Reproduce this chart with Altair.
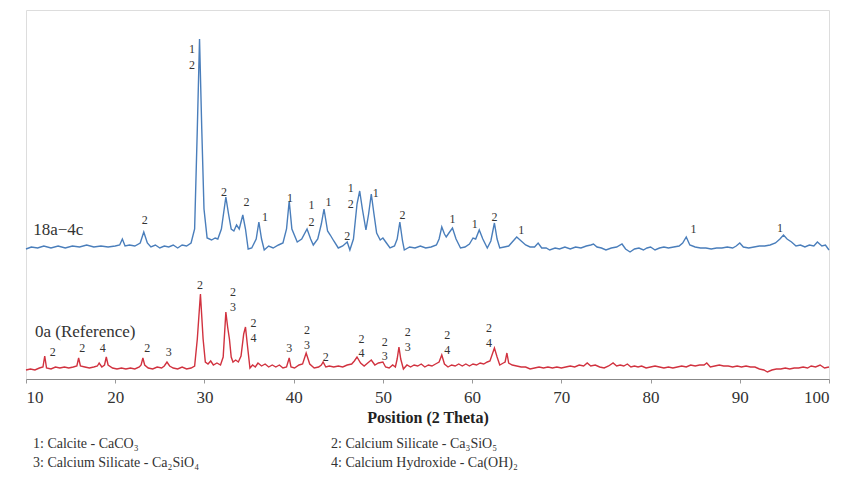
import altair as alt
import pandas as pd

# ---- data (intensity in arbitrary units, offset traces) ----
blue_theta = [10.0, 10.6, 11.3, 12.0, 12.8, 13.6, 14.4, 15.2, 16.0, 16.8, 17.6, 18.4, 19.2, 20.0, 20.5, 20.8, 21.1, 21.6, 22.2, 22.8,
              23.2, 23.6, 24.0, 24.5, 25.0, 25.5, 26.0, 26.5, 27.0, 27.5, 28.0, 28.5, 28.9, 29.2, 29.45, 29.7, 29.95, 30.3, 30.8, 31.2,
              31.5, 31.9, 32.4, 32.7, 33.0, 33.3, 33.6, 33.9, 34.3, 34.6, 34.9, 35.3, 35.8, 36.1, 36.4, 36.7, 37.2, 37.7, 38.3, 38.8,
              39.2, 39.5, 39.8, 40.4, 40.9, 41.5, 41.9, 42.2, 42.7, 43.1, 43.4, 43.8, 44.1, 44.5, 45.0, 45.5, 46.0, 46.3, 46.7, 47.1,
              47.4, 47.7, 48.1, 48.4, 48.7, 49.0, 49.3, 49.7, 50.0, 50.4, 50.8, 51.3, 51.6, 51.9, 52.2, 52.4, 53.0, 53.6, 54.2, 54.8,
              55.4, 56.0, 56.3, 56.6, 56.9, 57.1, 57.4, 57.8, 58.2, 58.7, 59.2, 59.7, 60.1, 60.4, 60.8, 61.2, 61.7, 62.1, 62.5, 62.8,
              63.1, 63.6, 64.1, 64.6, 65.0, 65.5, 66.0, 66.5, 67.0, 67.4, 67.8, 68.3, 68.7, 69.3, 69.8, 70.4, 71.0, 71.6, 72.2, 72.8,
              73.3, 73.6, 74.0, 74.5, 75.0, 75.6, 76.2, 76.8, 77.2, 77.7, 78.2, 78.7, 79.2, 79.6, 80.0, 80.5, 81.0, 81.5, 82.0, 82.6,
              83.2, 83.6, 84.0, 84.4, 85.0, 85.6, 86.2, 86.8, 87.4, 88.0, 88.6, 89.2, 89.6, 90.0, 90.4, 91.0, 91.6, 92.2, 92.8, 93.4,
              94.0, 94.5, 94.9, 95.3, 95.8, 96.3, 96.8, 97.3, 97.8, 98.3, 98.7, 99.2, 99.6, 100.0]
blue_int = [130, 132, 131, 133, 131, 133, 131, 133, 132, 134, 132, 133, 132, 133, 134, 140, 133, 134, 133, 136,
            147, 136, 132, 134, 131, 133, 132, 134, 131, 134, 133, 136, 150, 250, 340, 250, 170, 141, 139, 141,
            140, 150, 182, 165, 150, 148, 154, 150, 164, 150, 130, 131, 140, 157, 140, 129, 133, 131, 134, 136,
            150, 178, 150, 137, 140, 150, 140, 134, 140, 155, 170, 148, 144, 138, 131, 133, 137, 129, 140, 175,
            188, 170, 149, 165, 185, 165, 146, 139, 141, 136, 131, 133, 140, 157, 138, 129, 132, 131, 133, 131,
            132, 134, 140, 152, 145, 142, 146, 151, 140, 131, 132, 135, 141, 140, 149, 140, 131, 138, 156, 140,
            131, 132, 133, 138, 142, 138, 134, 132, 132, 136, 131, 131, 129, 131, 130, 132, 130, 132, 131, 133,
            134, 135, 132, 131, 129, 131, 132, 135, 130, 127, 130, 131, 129, 131, 132, 129, 131, 132, 131, 132,
            133, 136, 142, 134, 132, 131, 131, 130, 131, 131, 132, 131, 133, 136, 132, 131, 132, 133, 133, 134,
            136, 140, 144, 140, 137, 133, 134, 132, 134, 133, 137, 133, 134, 129]

red_theta = [10.0, 10.5, 11.0, 11.5, 11.9, 12.1, 12.3, 12.8, 13.3, 13.8, 14.3, 14.8, 15.3, 15.7, 15.9, 16.1, 16.6, 17.1, 17.6, 18.0,
             18.2, 18.5, 18.8, 19.0, 19.2, 19.7, 20.2, 20.7, 21.2, 21.7, 22.2, 22.7, 22.9, 23.1, 23.3, 23.7, 24.2, 24.7, 25.2, 25.5,
             25.8, 26.1, 26.5, 27.0, 27.5, 28.0, 28.5, 28.9, 29.2, 29.55, 29.85, 30.1, 30.4, 30.7, 31.0, 31.4, 31.8, 32.1, 32.4, 32.6,
             32.8, 33.0, 33.2, 33.5, 33.8, 34.1, 34.4, 34.6, 34.8, 35.1, 35.4, 35.7, 36.0, 36.4, 36.8, 37.2, 37.6, 38.0, 38.4, 38.8,
             39.2, 39.5, 39.7, 40.1, 40.6, 41.0, 41.4, 41.8, 42.3, 42.8, 43.1, 43.3, 43.6, 44.0, 44.5, 45.0, 45.5, 46.0, 46.5, 46.8,
             47.1, 47.5, 47.9, 48.3, 48.7, 49.1, 49.5, 50.0, 50.3, 50.7, 51.1, 51.4, 51.6, 51.8, 52.0, 52.3, 52.7, 53.1, 53.5, 53.9,
             54.3, 54.7, 55.1, 55.5, 55.9, 56.3, 56.6, 56.9, 57.3, 57.7, 58.1, 58.5, 58.9, 59.3, 59.7, 60.1, 60.5, 60.9, 61.3, 61.7,
             62.0, 62.5, 62.8, 63.1, 63.5, 63.7, 63.9, 64.1, 64.5, 65.0, 65.5, 66.0, 66.5, 67.0, 67.5, 68.0, 68.5, 69.0, 69.5, 70.0,
             70.5, 71.0, 71.5, 72.0, 72.5, 72.9, 73.3, 73.8, 74.3, 74.8, 75.3, 75.8, 76.2, 76.6, 77.0, 77.4, 77.8, 78.2, 78.6, 79.0,
             79.5, 80.0, 80.5, 81.0, 81.5, 82.0, 82.5, 83.0, 83.5, 84.0, 84.5, 85.0, 85.5, 86.0, 86.3, 86.7, 87.2, 87.7, 88.2, 88.7,
             89.2, 89.7, 90.2, 90.7, 91.2, 91.7, 92.2, 92.7, 93.1, 93.6, 94.1, 94.6, 95.1, 95.6, 96.1, 96.6, 97.1, 97.6, 98.0, 98.5,
             99.0, 99.5, 100.0]
red_int = [9, 10, 9, 11, 12, 23, 11, 10, 12, 11, 12, 11, 12, 13, 21, 13, 12, 11, 12, 13,
           16, 12, 14, 22, 14, 11, 10, 11, 10, 11, 10, 12, 14, 21, 14, 11, 10, 12, 11, 13,
           17, 13, 11, 10, 12, 10, 11, 13, 40, 85, 40, 17, 15, 18, 14, 16, 14, 22, 67, 52,
           40, 22, 17, 19, 17, 23, 45, 52, 35, 11, 14, 12, 16, 13, 15, 12, 14, 12, 14, 11,
           12, 21, 12, 11, 14, 15, 26, 15, 11, 12, 14, 17, 12, 13, 12, 13, 12, 14, 15, 18,
           22, 16, 13, 16, 19, 14, 16, 17, 12, 11, 14, 12, 20, 32, 20, 10, 14, 12, 14, 13,
           15, 12, 14, 13, 15, 17, 24, 15, 12, 14, 13, 15, 13, 15, 13, 15, 14, 16, 15, 17,
           18, 31, 22, 14, 16, 17, 26, 16, 14, 13, 12, 12, 10, 11, 12, 11, 12, 11, 12, 11,
           12, 13, 12, 14, 13, 16, 13, 14, 12, 11, 13, 16, 13, 14, 13, 15, 12, 13, 12, 13,
           11, 12, 13, 12, 11, 12, 11, 12, 13, 12, 14, 13, 14, 14, 16, 12, 13, 14, 13, 13,
           12, 13, 12, 13, 12, 12, 10, 9, 7, 9, 10, 10, 11, 10, 11, 11, 12, 11, 13, 12,
           14, 11, 12]

# phase labels above the peaks
lab_theta = [23.3, 28.6, 28.6, 32.2, 34.7, 36.8, 39.6, 42.0, 42.0, 43.9, 46.0, 46.4, 46.4, 49.2, 52.2,
             57.8, 60.3, 62.5, 65.5, 84.8, 94.5,
             13.0, 16.3, 18.6, 23.6, 26.0, 29.5, 33.2, 33.2, 35.5, 35.5, 39.5, 41.5, 41.5, 43.6,
             47.6, 47.6, 50.2, 50.2, 52.8, 52.8, 57.2, 57.2, 61.9, 61.9]
lab_value = [159, 330, 314, 187, 177, 162, 181, 174, 157, 177, 143, 191, 175, 186, 164,
             160, 155, 162, 149, 150, 151,
             27, 31, 31, 31, 27, 94, 87, 72, 56, 41, 31, 49, 34, 22,
             40, 26, 37, 23, 47, 32, 44, 29, 51, 36]
lab_text = ["2", "1", "2", "2", "2", "1", "1", "1", "2", "1", "2", "1", "2", "1", "2",
            "1", "1", "2", "1", "1", "1",
            "2", "2", "4", "2", "3", "2", "2", "3", "2", "4", "3", "2", "3", "2",
            "2", "4", "2", "3", "2", "3", "2", "4", "2", "4"]

series_names = ["18a\u22124c", "0a (Reference)"]
series_theta = [10.8, 11.0]
series_value = [149, 47]
series_colors = ["#4a7ebb", "#d1323f"]

legend_lines = ["1: Calcite - CaCO\u2083", "2: Calcium Silicate - Ca\u2083SiO\u2085",
                "3: Calcium Silicate - Ca\u2082SiO\u2084", "4: Calcium Hydroxide - Ca(OH)\u2082"]

x_ticks = [10, 20, 30, 40, 50, 60, 70, 80, 90, 100]

# ---- tables ----
trace_df = pd.concat([
    pd.DataFrame({"theta": blue_theta, "intensity": blue_int, "series": series_names[0]}),
    pd.DataFrame({"theta": red_theta, "intensity": red_int, "series": series_names[1]}),
], ignore_index=True)
lab_df = pd.DataFrame({"theta": lab_theta, "value": lab_value, "text": lab_text})
ser_df = pd.DataFrame({"theta": series_theta, "value": series_value, "name": series_names})

FONT = "'Times New Roman', 'Liberation Serif', 'DejaVu Serif', serif"
xscale = alt.Scale(domain=[10, 100], nice=False, zero=False)
yscale = alt.Scale(domain=[0, 369], nice=False, zero=False)

lines = alt.Chart(trace_df).mark_line(strokeWidth=1.4).encode(
    x=alt.X("theta:Q", scale=xscale,
            axis=alt.Axis(values=x_ticks, title="Position (2 Theta)", grid=False,
                          labelFont=FONT, labelFontSize=17, labelColor="#333333",
                          labelPadding=6, tickSize=4, tickColor="#999999",
                          domainColor="#888888", titleFont=FONT, titleFontSize=16,
                          titleFontWeight="bold", titleColor="#222222", titlePadding=4)),
    y=alt.Y("intensity:Q", scale=yscale, axis=None),
    color=alt.Color("series:N", scale=alt.Scale(domain=series_names, range=series_colors), legend=None),
    detail="series:N",
)

labels = alt.Chart(lab_df).mark_text(font=FONT, fontSize=12, color="#333333", baseline="middle").encode(
    x=alt.X("theta:Q", scale=xscale),
    y=alt.Y("value:Q", scale=yscale),
    text="text:N",
)

series_labels = alt.Chart(ser_df).mark_text(font=FONT, fontSize=17, color="#333333",
                                            align="left", baseline="middle").encode(
    x=alt.X("theta:Q", scale=xscale),
    y=alt.Y("value:Q", scale=yscale),
    text="name:N",
)

legend_layers = []
for i, t in enumerate(legend_lines):
    col = i % 2
    row = i // 2
    legend_layers.append(
        alt.Chart(pd.DataFrame({"text": [t]})).mark_text(
            font=FONT, fontSize=14, color="#333333", align="left", baseline="middle"
        ).encode(
            x=alt.value(7 if col == 0 else 305),
            y=alt.value(434 if row == 0 else 453),
            text="text:N",
        )
    )

chart = alt.layer(lines, labels, series_labels, *legend_layers).properties(
    width=803, height=369,
    autosize=alt.AutoSizeParams(type="none"),
    padding={"left": 26, "top": 10, "right": 19, "bottom": 105},
).configure_view(stroke="#888888", strokeWidth=1.5).configure(background="white")

chart.save("out.html", embed_options={"renderer": "svg", "actions": False})
